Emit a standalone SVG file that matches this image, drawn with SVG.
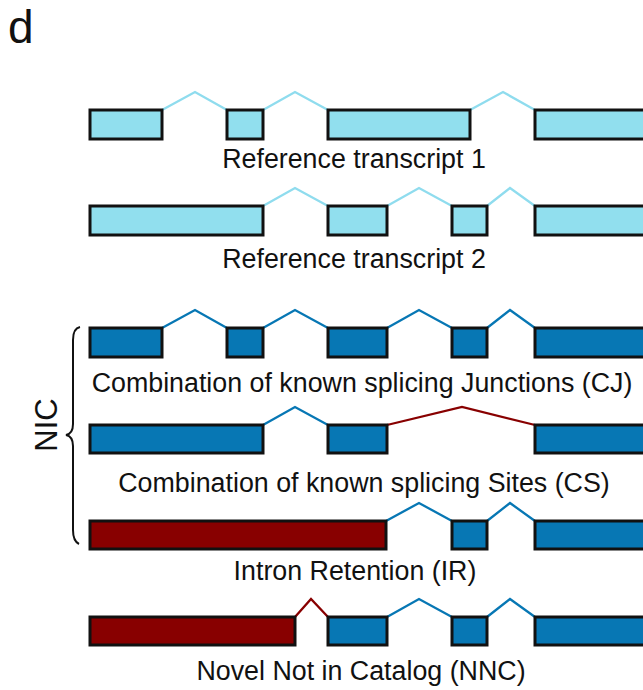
<svg xmlns="http://www.w3.org/2000/svg" width="643" height="690" viewBox="0 0 643 690">
<style>
text{font-family:"Liberation Sans",Arial,sans-serif;fill:#111;}
.lbl{font-size:26.8px;text-anchor:middle;}
.ex{stroke:#111;stroke-width:3;}
.lt{fill:#91dfee;}
.bl{fill:#0777b4;}
.rd{fill:#880000;}
.cl{fill:none;stroke:#8fdcee;stroke-width:2.3;}
.cb{fill:none;stroke:#0777b4;stroke-width:2.3;}
.cr{fill:none;stroke:#880000;stroke-width:2.3;}
</style>
<rect width="643" height="690" fill="#fff"/>
<text x="8" y="43" style="font-size:46px">d</text>

<g id="connectors">
<polyline class="cl" points="162,110 195,92 227,110"/>
<polyline class="cl" points="263,110 295,92 328,110"/>
<polyline class="cl" points="470,110 503,92 535,110"/>
<polyline class="cl" points="263,206 295,188 328,206"/>
<polyline class="cl" points="387,206 419,188 452,206"/>
<polyline class="cl" points="487,206 510,188 535,206"/>
<polyline class="cb" points="162,328 195,310 227,328"/>
<polyline class="cb" points="263,328 295,310 328,328"/>
<polyline class="cb" points="387,328 419,310 452,328"/>
<polyline class="cb" points="487,328 510,310 535,328"/>
<polyline class="cb" points="263,425 295,407 328,425"/>
<polyline class="cr" points="387,425 462,407 535,425"/>
<polyline class="cb" points="386,521 419,503 452,521"/>
<polyline class="cb" points="487,521 510,503 535,521"/>
<polyline class="cr" points="295,617 311,599 328,617"/>
<polyline class="cb" points="387,617 419,599 452,617"/>
<polyline class="cb" points="487,617 510,599 535,617"/>
</g>

<g id="ref1">
<rect class="ex lt" x="90" y="110" width="72" height="29"/>
<rect class="ex lt" x="227" y="110" width="36" height="29"/>
<rect class="ex lt" x="328" y="110" width="142" height="29"/>
<rect class="ex lt" x="535" y="110" width="115" height="29"/>
<text class="lbl" x="354" y="168">Reference transcript 1</text>
</g>

<g id="ref2">
<rect class="ex lt" x="90" y="206" width="173" height="29"/>
<rect class="ex lt" x="328" y="206" width="59" height="29"/>
<rect class="ex lt" x="452" y="206" width="35" height="29"/>
<rect class="ex lt" x="535" y="206" width="115" height="29"/>
<text class="lbl" x="354" y="268">Reference transcript 2</text>
</g>

<g id="nic">
<path d="M80,327 C75,328 73,332 73,340 L73,424 C73,431 71,434 66,435 C71,436 73,439 73,446 L73,530 C73,538 75,542 79,544" fill="none" stroke="#111" stroke-width="2"/>
<text transform="translate(57,425) rotate(-90)" style="font-size:31px;text-anchor:middle">NIC</text>
</g>

<g id="cj">
<rect class="ex bl" x="90" y="328" width="72" height="29"/>
<rect class="ex bl" x="227" y="328" width="36" height="29"/>
<rect class="ex bl" x="328" y="328" width="59" height="29"/>
<rect class="ex bl" x="452" y="328" width="35" height="29"/>
<rect class="ex bl" x="535" y="328" width="115" height="29"/>
<text class="lbl" x="362" y="392">Combination of known splicing Junctions (CJ)</text>
</g>

<g id="cs">
<rect class="ex bl" x="90" y="425" width="173" height="28"/>
<rect class="ex bl" x="328" y="425" width="59" height="28"/>
<rect class="ex bl" x="535" y="425" width="115" height="28"/>
<text class="lbl" x="364" y="492">Combination of known splicing Sites (CS)</text>
</g>

<g id="ir">
<rect class="ex rd" x="90" y="521" width="296" height="28"/>
<rect class="ex bl" x="452" y="521" width="35" height="28"/>
<rect class="ex bl" x="535" y="521" width="115" height="28"/>
<text class="lbl" x="355" y="580">Intron Retention (IR)</text>
</g>

<g id="nnc">
<rect class="ex rd" x="90" y="617" width="205" height="28"/>
<rect class="ex bl" x="328" y="617" width="59" height="28"/>
<rect class="ex bl" x="452" y="617" width="35" height="28"/>
<rect class="ex bl" x="535" y="617" width="115" height="28"/>
<text class="lbl" x="361" y="680">Novel Not in Catalog (NNC)</text>
</g>
</svg>
